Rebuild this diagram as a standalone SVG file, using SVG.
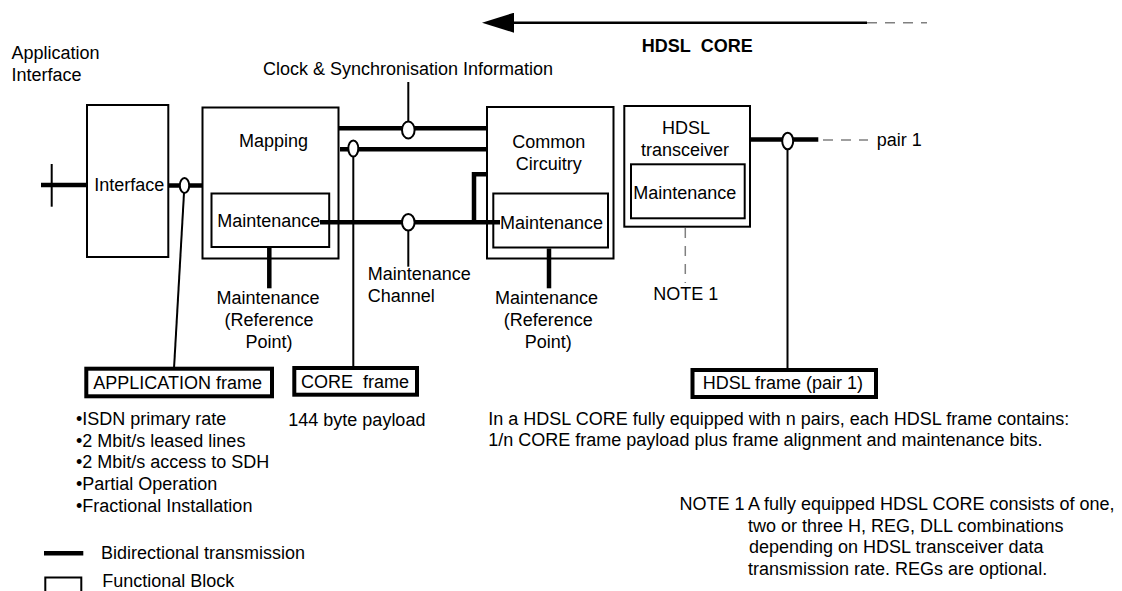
<svg xmlns="http://www.w3.org/2000/svg" width="1122" height="591" viewBox="0 0 1122 591">
<style>
text{font-family:"Liberation Sans",Arial,sans-serif;font-size:18px;fill:#000}
.c{text-anchor:middle}
.b{font-weight:bold}
.box{fill:#fff;stroke:#000;stroke-width:2}
.frame{fill:#fff;stroke:#000;stroke-width:4}
.thick{fill:none;stroke:#000;stroke-width:4.5}
.thin{fill:none;stroke:#000;stroke-width:2}
.dash{fill:none;stroke:#808080;stroke-width:1.5;stroke-dasharray:10 8}
.ring{fill:#fff;stroke:#000;stroke-width:2}
</style>
<defs>
<marker id="ah" viewBox="0 0 32 20" refX="0" refY="10" markerWidth="32" markerHeight="20" markerUnits="userSpaceOnUse" orient="auto">
<polygon points="32,10 0,0 0,20" fill="#000"/>
</marker>
</defs>

<text x="11.5" y="59">Application</text>
<text x="11.5" y="80.5">Interface</text>
<text x="408" y="74.5" class="c">Clock &amp; Synchronisation Information</text>
<text class="b" y="52.3"><tspan x="641.7">HDSL</tspan><tspan x="700.7">CORE</tspan></text>

<g id="interface">
<rect class="box" x="87" y="105" width="81.3" height="152"/>
<text x="94.3" y="191">Interface</text>
</g>
<g id="mapping">
<rect class="box" x="202.5" y="107.5" width="136" height="151"/>
<text x="273.5" y="147.3" class="c">Mapping</text>
<rect class="box" x="211.5" y="193.5" width="117.7" height="53.5"/>
<text x="217.3" y="226.7">Maintenance</text>
</g>
<g id="common">
<rect class="box" x="487" y="107" width="126.5" height="151.5"/>
<text x="548.7" y="148.3" class="c">Common</text>
<text x="548.7" y="169.5" class="c">Circuitry</text>
<rect class="box" x="493.3" y="193.5" width="114.7" height="54"/>
</g>
<g id="transceiver">
<rect class="box" x="624.3" y="106" width="125.7" height="120.7"/>
<text x="686" y="134" class="c">HDSL</text>
<text x="685" y="155.5" class="c">transceiver</text>
<rect class="box" x="631" y="164.3" width="113.7" height="54"/>
<text x="633.3" y="199">Maintenance</text>
</g>

<g id="connectors">
<line x1="867" y1="22.7" x2="514" y2="22.7" stroke="#000" stroke-width="2.5" marker-end="url(#ah)"/>
<line class="dash" x1="867" y1="22.7" x2="927" y2="22.7"/>
<line class="thick" x1="41" y1="185" x2="87" y2="185"/>
<line class="thin" x1="51.7" y1="164" x2="51.7" y2="206.7"/>
<line class="thick" x1="168" y1="185.5" x2="202" y2="185.5"/>
<line class="thin" x1="184" y1="193" x2="174" y2="368.7"/>
<ellipse class="ring" cx="184.5" cy="185.5" rx="4.7" ry="7.5"/>
<line class="thick" x1="338" y1="128.3" x2="487" y2="128.3"/>
<line class="thin" x1="408.3" y1="82" x2="408.3" y2="122"/>
<ellipse class="ring" cx="408.3" cy="130" rx="6.3" ry="8.5"/>
<line class="thick" x1="340" y1="149.3" x2="487" y2="149.3"/>
<line class="thin" x1="353.3" y1="156" x2="353.3" y2="368"/>
<ellipse class="ring" cx="353.3" cy="148.5" rx="5" ry="8"/>
<line class="thick" x1="320" y1="222.3" x2="500" y2="222.3"/>
<line class="thin" x1="408.3" y1="230" x2="408.3" y2="266.7"/>
<ellipse class="ring" cx="408.3" cy="222.3" rx="6.3" ry="8.3"/>
<polyline class="thick" points="474,224 474,174.3 487,174.3"/>
<line class="thick" x1="269.3" y1="248" x2="269.3" y2="288.3"/>
<line class="thick" x1="549" y1="248.5" x2="549" y2="288.3"/>
<line class="thick" x1="751" y1="139.5" x2="818.3" y2="139.5"/>
<line class="dash" x1="823" y1="140" x2="868" y2="140"/>
<line class="thin" x1="787.5" y1="149" x2="787.5" y2="370"/>
<ellipse class="ring" cx="787.7" cy="141" rx="5.5" ry="8.3"/>
<line class="dash" x1="685.3" y1="228" x2="685.3" y2="283"/>
</g>

<text x="500" y="229">Maintenance</text>

<text x="876.7" y="145.7">pair 1</text>
<text x="653.3" y="300">NOTE 1</text>
<text x="367.7" y="280">Maintenance</text>
<text x="367.7" y="301.7">Channel</text>
<text x="268" y="303.5" class="c">Maintenance</text>
<text x="269" y="325.5" class="c">(Reference</text>
<text x="269" y="347.5" class="c">Point)</text>
<text x="546.5" y="303.5" class="c">Maintenance</text>
<text x="548.3" y="325.5" class="c">(Reference</text>
<text x="548.3" y="347.5" class="c">Point)</text>

<g id="app-frame">
<rect class="frame" x="86.3" y="368.7" width="185.7" height="27.6"/>
<text x="93.3" y="389">APPLICATION frame</text>
</g>
<g id="core-frame">
<rect class="frame" x="294.3" y="368" width="122.7" height="26.7"/>
<text y="387.7"><tspan x="301">CORE</tspan><tspan x="363">frame</tspan></text>
</g>
<g id="hdsl-frame">
<rect class="frame" x="692.5" y="370" width="183.5" height="27"/>
<text x="702.7" y="389.3">HDSL frame (pair 1)</text>
</g>

<text x="288.3" y="425.5">144 byte payload</text>
<text x="76" y="425">•ISDN primary rate</text>
<text x="76" y="446.7">•2 Mbit/s leased lines</text>
<text x="76" y="468.3">•2 Mbit/s access to SDH</text>
<text x="76" y="490">•Partial Operation</text>
<text x="76" y="511.7">•Fractional Installation</text>

<text x="488.3" y="424.5">In a HDSL CORE fully equipped with n pairs, each HDSL frame contains:</text>
<text x="488.3" y="446">1/n CORE frame payload plus frame alignment and maintenance bits.</text>

<text y="510"><tspan x="679.5">NOTE 1</tspan><tspan x="748">A fully equipped HDSL CORE consists of one,</tspan></text>
<text x="748" y="531.7">two or three H, REG, DLL combinations</text>
<text x="749" y="553.3">depending on HDSL transceiver data</text>
<text x="748" y="575">transmission rate. REGs are optional.</text>

<g id="legend">
<line class="thick" x1="44" y1="553.3" x2="83.3" y2="553.3"/>
<text x="101" y="559">Bidirectional transmission</text>
<polyline class="thin" points="45.3,595 45.3,577.5 81.3,577.5 81.3,595"/>
<text x="102.3" y="586.5">Functional Block</text>
</g>
</svg>
